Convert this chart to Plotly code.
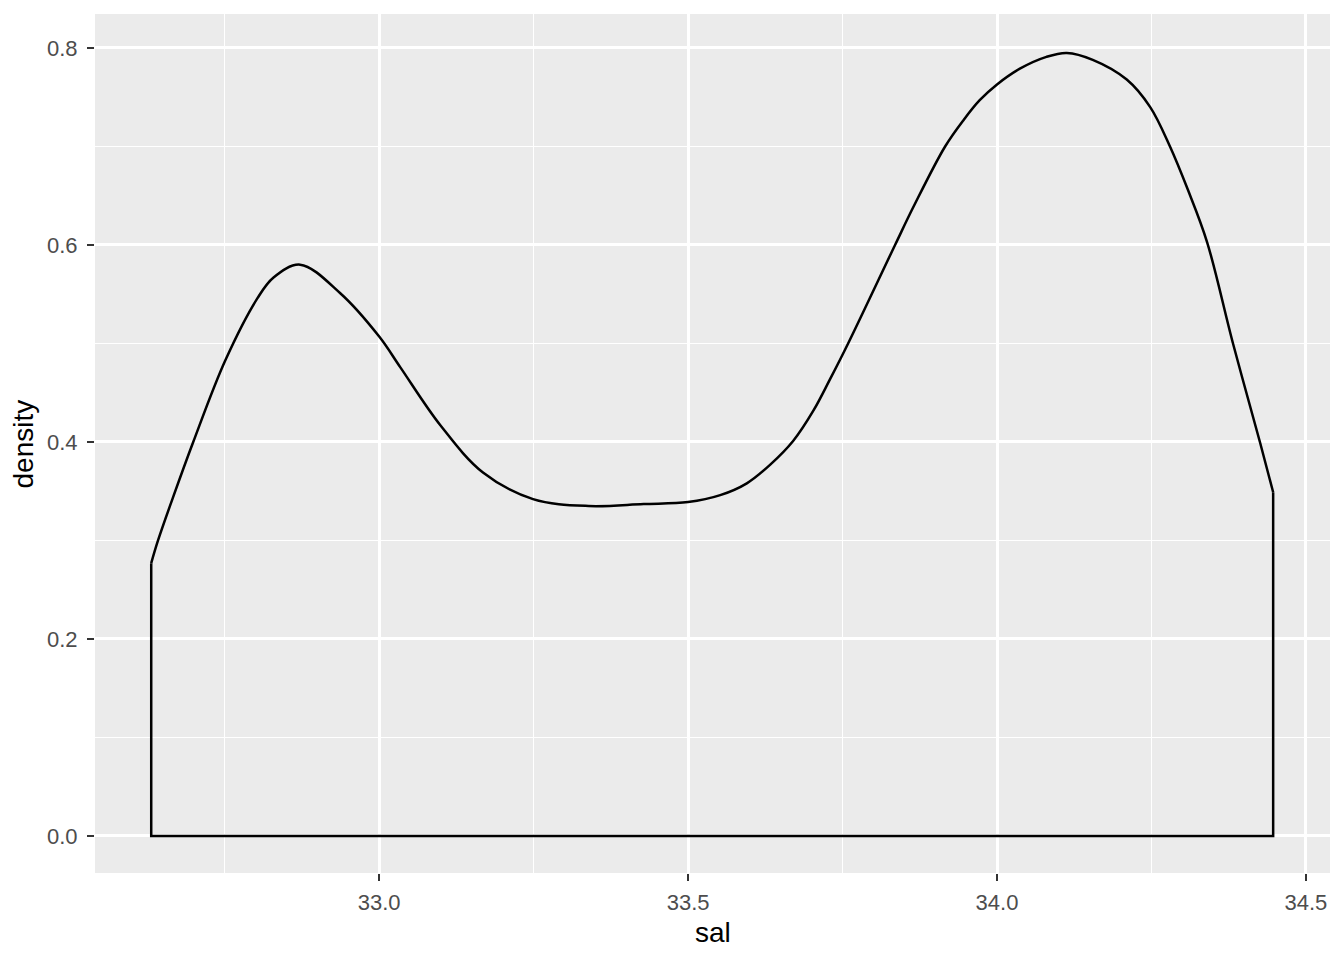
import plotly.graph_objects as go

# Density curve of salinity
sal = [32.631, 32.642, 32.667, 32.699, 32.751, 32.803, 32.829, 32.872,
       32.937, 33.000, 33.034, 33.099, 33.168, 33.249, 33.339, 33.428, 33.500,
       33.552, 33.595, 33.633, 33.670, 33.703, 33.730, 33.759, 33.835, 33.865,
       33.916, 33.946, 33.972, 34.000, 34.037, 34.080, 34.113, 34.155, 34.210,
       34.248, 34.280, 34.309, 34.340, 34.382, 34.426, 34.447]
density = [0.277, 0.300, 0.345, 0.400, 0.483, 0.546, 0.567, 0.580,
           0.551, 0.507, 0.476, 0.417, 0.369, 0.342, 0.335, 0.337, 0.339,
           0.346, 0.358, 0.377, 0.401, 0.432, 0.464, 0.500, 0.600, 0.639,
           0.700, 0.727, 0.747, 0.763, 0.779, 0.791, 0.795, 0.788, 0.768,
           0.740, 0.700, 0.656, 0.603, 0.500, 0.399, 0.349]

x_ticks = [33.0, 33.5, 34.0, 34.5]
x_tick_labels = ["33.0", "33.5", "34.0", "34.5"]
y_ticks = [0.0, 0.2, 0.4, 0.6, 0.8]
y_tick_labels = ["0.0", "0.2", "0.4", "0.6", "0.8"]

fig = go.Figure()
# baseline and vertical edges of the density polygon
fig.add_trace(go.Scatter(
    x=[sal[0], sal[0], sal[-1], sal[-1]],
    y=[density[0], 0, 0, density[-1]],
    mode="lines", line=dict(color="black", width=2.5), hoverinfo="skip",
    showlegend=False))
# density curve
fig.add_trace(go.Scatter(
    x=sal, y=density, mode="lines",
    line=dict(color="black", width=2.5, shape="spline", smoothing=1.0),
    showlegend=False))

font_family = "Liberation Sans, Arial, sans-serif"
axis_font = dict(family=font_family, size=22, color="#4D4D4D")
title_font = dict(family=font_family, size=28, color="black")

fig.update_layout(
    width=1336, height=952,
    margin=dict(l=87, r=14, t=6, b=87),
    paper_bgcolor="white", plot_bgcolor="#EBEBEB",
    showlegend=False,
    xaxis=dict(
        range=[32.540, 34.539], tickvals=x_ticks, ticktext=x_tick_labels,
        showgrid=True, gridcolor="white", gridwidth=2.5,
        minor=dict(dtick=0.25, tick0=32.75, showgrid=True, gridcolor="white",
                   gridwidth=1.3, ticks=""),
        ticks="outside", ticklen=7, tickwidth=2, tickcolor="#333333",
        ticklabelstandoff=3,
        tickfont=axis_font, zeroline=False, showline=False,
    ),
    yaxis=dict(
        range=[-0.0376, 0.8345], tickvals=y_ticks, ticktext=y_tick_labels,
        showgrid=True, gridcolor="white", gridwidth=2.5,
        minor=dict(dtick=0.1, tick0=0.1, showgrid=True, gridcolor="white",
                   gridwidth=1.3, ticks=""),
        ticks="outside", ticklen=7, tickwidth=2, tickcolor="#333333",
        ticklabelstandoff=5,
        tickfont=axis_font, zeroline=False, showline=False,
    ),
    annotations=[
        dict(text="sal", xref="paper", yref="paper", x=0.5, y=-0.0687,
             xanchor="center", yanchor="middle", showarrow=False, font=title_font),
        dict(text="density", xref="paper", yref="paper", x=-0.0575, y=0.5,
             xanchor="center", yanchor="middle", textangle=-90, showarrow=False,
             font=title_font),
    ],
)

fig.write_html("out.html")
